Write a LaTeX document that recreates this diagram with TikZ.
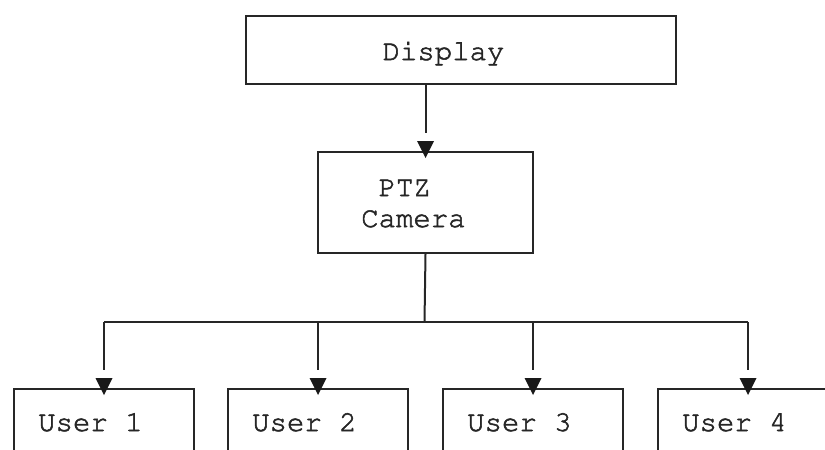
\documentclass[tikz,border=0pt]{standalone}
\usepackage[T1]{fontenc}
% slightly heavier Courier: fill and stroke the glyph outlines
\newcommand{\heavytext}[1]{\special{pdf:literal 2 Tr 0.55 w}#1\special{pdf:literal 0 Tr}}
\begin{document}
\begin{tikzpicture}[x=1pt,y=-1pt,
  box/.style={draw=black!85, line width=2pt, rectangle, inner sep=0pt,
              anchor=north west},
  lbl/.style={font=\fontfamily{pcr}\fontsize{29}{31}\selectfont,
              text=black!85, inner sep=0pt},
  wire/.style={line width=2pt, draw=black!85},
  feed/.style={wire, shorten >=18pt},
  head/.style={fill=black!90}]
\useasboundingbox (0,0) rectangle (825,450);
\clip (0,0) rectangle (825,450);

% boxes
\node[box, minimum width=430pt, minimum height=68pt] (disp) at (245,15) {};
\node[box, minimum width=215pt, minimum height=101pt] (ptz) at (317,151) {};
\node[box, minimum width=180pt, minimum height=110pt] (u1) at (13,388) {};
\node[box, minimum width=180pt, minimum height=110pt] (u2) at (227,388) {};
\node[box, minimum width=180pt, minimum height=110pt] (u3) at (442,388) {};
\node[box, minimum width=180pt, minimum height=110pt] (u4) at (657,388) {};

% labels
\node[lbl, anchor=base] (dispText) at (443.5,60) {\heavytext{Display}};
\node[lbl, anchor=base west, align=left] (ptzText) at (361,227)
  {\heavytext{\ PTZ}\\\heavytext{Camera}};
\node[lbl, anchor=base west] (u1Text) at (38,431) {\heavytext{User 1}};
\node[lbl, anchor=base west] (u2Text) at (252,431) {\heavytext{User 2}};
\node[lbl, anchor=base west] (u3Text) at (467,431) {\heavytext{User 3}};
\node[lbl, anchor=base west] (u4Text) at (682,431) {\heavytext{User 4}};

% connectors: a line stopping short of a filled head that overlaps the box edge
\draw[feed] (disp.south -| ptz.north) -- (ptz.north);
\fill[head] ([yshift=-7pt]ptz.north) -- ++(-8.5,-17) -- ++(17,0) -- cycle;
\coordinate (bus) at (424.5,322);
\draw[wire] (ptz.south) -- (bus);
\draw[wire] (u1.north |- bus) -- (u4.north |- bus);
\foreach \u in {u1,u2,u3,u4}{
  \draw[feed] (\u.north |- bus) -- (\u.north);
  \fill[head] ([yshift=-7pt]\u.north) -- ++(-8.5,-17) -- ++(17,0) -- cycle;
}
\end{tikzpicture}
\end{document}
